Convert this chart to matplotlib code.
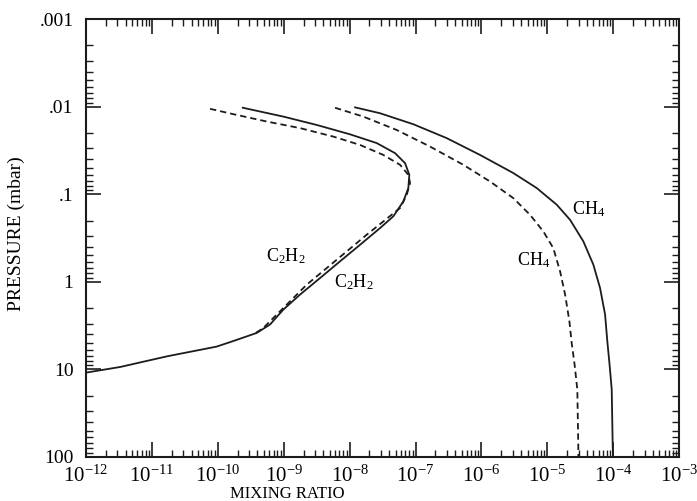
import matplotlib.pyplot as plt
from matplotlib.ticker import LogLocator, FixedLocator, NullFormatter

plt.rcParams['font.family'] = ['Liberation Serif', 'DejaVu Serif']
plt.rcParams['mathtext.fontset'] = 'custom'
plt.rcParams['mathtext.rm'] = 'Liberation Serif'
plt.rcParams['mathtext.it'] = 'Liberation Serif:italic'

# C2H2 profiles (mixing ratio vs pressure in mbar)
c2h2_solid_x = [2.39e-10, 9.86e-10, 3.17e-9, 1.01e-8, 2.58e-8, 4.89e-8, 6.93e-8, 8.05e-8,
                7.78e-8, 6.53e-8, 4.60e-8, 2.89e-8, 1.44e-8, 7.14e-9, 3.56e-9, 1.77e-9,
                9.86e-10, 6.19e-10, 3.89e-10, 1.72e-10, 9.6e-11, 1.7e-11, 3.3e-12, 1.0e-12]
c2h2_solid_p = [0.0103, 0.0130, 0.0162, 0.0207, 0.0261, 0.0340, 0.0442, 0.0601,
                0.0851, 0.121, 0.179, 0.244, 0.378, 0.585, 0.906, 1.40,
                2.08, 3.08, 3.84, 4.75, 5.5, 7.1, 9.4, 10.9]

c2h2_dash_x = [7.62e-11, 1.72e-10, 5.52e-10, 1.77e-9, 5.66e-9, 1.44e-8, 3.24e-8, 5.82e-8,
               7.78e-8, 8.26e-8, 7.34e-8, 5.82e-8, 3.24e-8, 1.82e-8, 9.04e-9, 4.50e-9,
               2.23e-9, 1.25e-9, 7.83e-10, 4.90e-10, 3.46e-10]
c2h2_dash_p = [0.0106, 0.0122, 0.0148, 0.0176, 0.0220, 0.0274, 0.0356, 0.0462,
               0.0601, 0.0746, 0.102, 0.144, 0.205, 0.290, 0.450, 0.697,
               1.08, 1.67, 2.37, 3.37, 4.01]

# CH4 profiles
ch4_solid_x = [1.21e-8, 2.89e-8, 9.27e-8, 2.97e-7, 9.5e-7, 3.05e-6, 6.9e-6, 1.39e-5,
               2.21e-5, 3.52e-5, 4.99e-5, 6.31e-5, 7.52e-5, 8.13e-5, 8.79e-5, 9.48e-5,
               9.82e-5, 9.93e-5]
ch4_solid_p = [0.0102, 0.0119, 0.0159, 0.0229, 0.0356, 0.0574, 0.0851, 0.132,
               0.196, 0.346, 0.638, 1.18, 2.37, 4.79, 8.81, 17.0,
               78.5, 100]

ch4_dash_x = [6.0e-9, 1.61e-8, 5.19e-8, 1.66e-7, 5.31e-7, 1.35e-6, 3.05e-6, 5.46e-6,
              8.69e-6, 1.23e-5, 1.56e-5, 1.86e-5, 2.16e-5, 2.34e-5, 2.59e-5, 2.85e-5,
              2.95e-5, 2.96e-5]
ch4_dash_p = [0.0103, 0.0130, 0.0185, 0.0286, 0.0462, 0.0716, 0.111, 0.172,
              0.266, 0.412, 0.760, 1.40, 2.83, 4.99, 8.8, 17.0,
              78.5, 100]

x_ticks = [1e-12, 1e-11, 1e-10, 1e-9, 1e-8, 1e-7, 1e-6, 1e-5, 1e-4, 1e-3]
x_labels = ['$10^{-12}$', '$10^{-11}$', '$10^{-10}$', '$10^{-9}$', '$10^{-8}$',
            '$10^{-7}$', '$10^{-6}$', '$10^{-5}$', '$10^{-4}$', '$10^{-3}$']
y_ticks = [0.001, 0.01, 0.1, 1, 10, 100]
y_labels = ['.001', '.01', '.1', '1', '10', '100']

fig = plt.figure(figsize=(6.97, 5.01), dpi=100)
ax = fig.add_axes([0.1234, 0.088, 0.851, 0.874])

ink = '#1c1c1c'
dash = (0, (3.5, 2.2))
ax.plot(c2h2_solid_x, c2h2_solid_p, color=ink, lw=1.3)
ax.plot(c2h2_dash_x, c2h2_dash_p, color=ink, lw=1.3, ls=dash)
ax.plot(ch4_solid_x, ch4_solid_p, color=ink, lw=1.3)
ax.plot(ch4_dash_x, ch4_dash_p, color=ink, lw=1.3, ls=dash)

ax.set_xscale('log')
ax.set_yscale('log')
ax.set_xlim(1e-12, 1e-3)
ax.set_ylim(100, 0.001)

ax.xaxis.set_major_locator(FixedLocator(x_ticks))
ax.set_xticklabels(x_labels)
ax.yaxis.set_major_locator(FixedLocator(y_ticks))
ax.set_yticklabels(y_labels)
ax.xaxis.set_minor_locator(LogLocator(base=10, subs=range(2, 10), numticks=20))
ax.yaxis.set_minor_locator(LogLocator(base=10, subs=range(2, 10), numticks=20))
ax.xaxis.set_minor_formatter(NullFormatter())
ax.yaxis.set_minor_formatter(NullFormatter())

ax.tick_params(which='both', direction='in', top=True, right=True, color=ink)
ax.tick_params(which='major', length=11, width=1.2)
ax.tick_params(which='minor', length=5, width=1.0)
ax.tick_params(axis='x', which='major', labelsize=15, pad=6)
ax.tick_params(axis='y', which='major', labelsize=14, pad=9)
for s in ax.spines.values():
    s.set_linewidth(1.5)
    s.set_color(ink)

# curve labels
ax.text(1.07e-9, 0.51, 'C$_2$H$_2$', fontsize=13, ha='center', va='center')
ax.text(1.17e-8, 1.02, 'C$_2$H$_2$', fontsize=13, ha='center', va='center')
ax.text(4.3e-5, 0.15, 'CH$_4$', fontsize=13, ha='center', va='center')
ax.text(6.1e-6, 0.56, 'CH$_4$', fontsize=13, ha='center', va='center')

ax.set_xlabel('MIXING RATIO', fontsize=12)
ax.xaxis.set_label_coords(0.34, -0.066)
ax.set_ylabel('PRESSURE (mbar)', fontsize=14)
ax.yaxis.set_label_coords(-0.103, 0.511)

fig.savefig('out.png', dpi=100)
